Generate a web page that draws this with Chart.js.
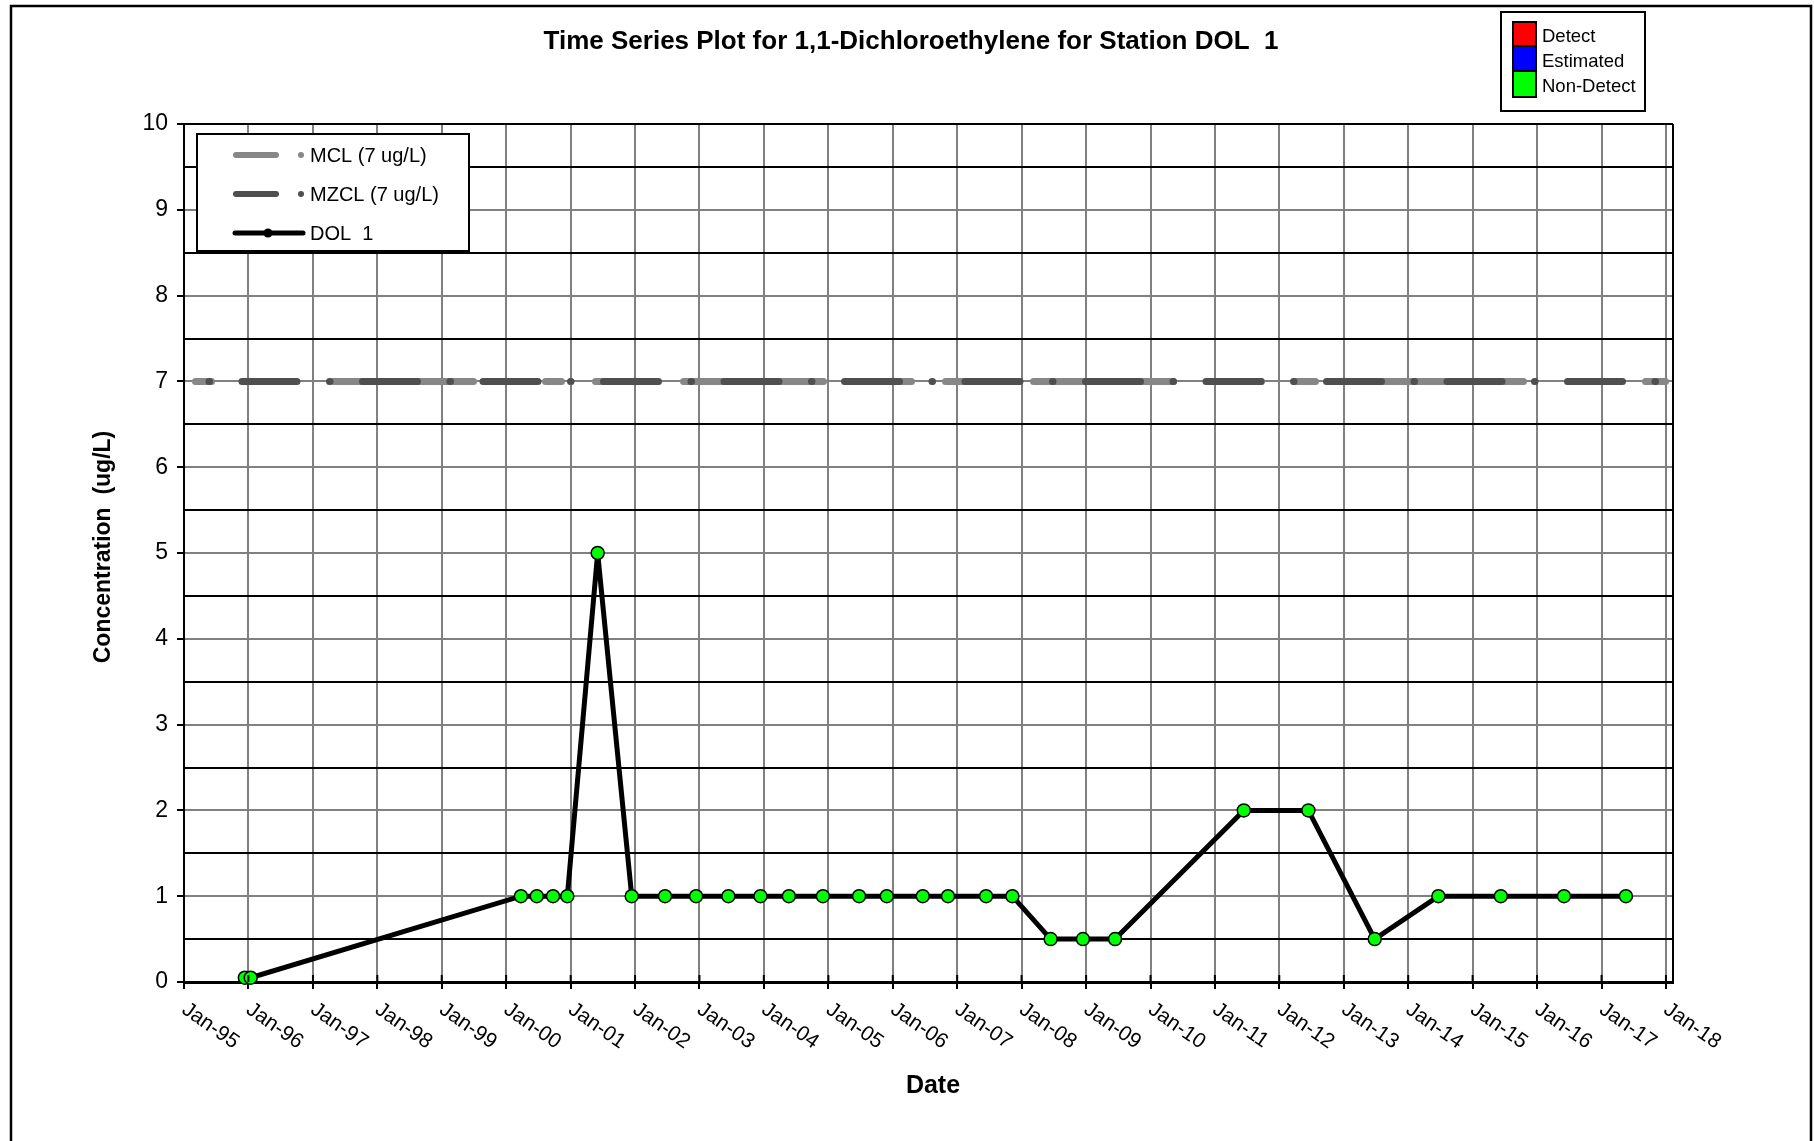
<!DOCTYPE html>
<html>
<head>
<meta charset="utf-8">
<title>Time Series Plot for 1,1-Dichloroethylene for Station DOL 1</title>
<script src="https://cdn.jsdelivr.net/npm/chart.js@4.4.1/dist/chart.umd.min.js"></script>
<style>
html, body { margin: 0; padding: 0; background: #fff; }
#wrap { width: 1814px; height: 1141px; }
</style>
</head>
<body>
<div id="wrap"><canvas id="tsChart" width="1814" height="1141"></canvas></div>
<script>
// sample dates and results for DOL 1 (all non-detect)
const sampleDates = [
    '1995-12-12', '1996-01-14',
    '2000-03-25', '2000-06-23', '2000-09-23', '2000-12-13',
    '2001-06-03', '2001-12-13',
    '2002-06-20', '2002-12-13', '2003-06-14', '2003-12-13',
    '2004-05-22', '2004-12-01', '2005-06-24', '2005-11-28',
    '2006-06-20', '2006-11-10', '2007-06-14', '2007-11-10',
    '2008-06-14', '2008-12-14', '2009-06-14',
    '2011-06-14', '2012-06-14', '2013-06-25',
    '2014-06-21', '2015-06-10', '2016-06-02', '2017-05-19'
];
const dolValues = [
    0.05, 0.05,
    1, 1, 1, 1,
    5, 1,
    1, 1, 1, 1,
    1, 1, 1, 1,
    1, 1, 1, 1,
    0.5, 0.5, 0.5,
    2, 2, 0.5,
    1, 1, 1, 1
];

// regulatory limits, drawn across the whole axis
const limitDates = ['1995-01-01', '2018-02-10'];
const mclValues = [7, 7];
const mzclValues = [7, 7];

const xTickYears = [1995, 1996, 1997, 1998, 1999, 2000, 2001, 2002, 2003, 2004, 2005, 2006,
    2007, 2008, 2009, 2010, 2011, 2012, 2013, 2014, 2015, 2016, 2017, 2018];
const xTickLabels = ['Jan-95', 'Jan-96', 'Jan-97', 'Jan-98', 'Jan-99', 'Jan-00', 'Jan-01', 'Jan-02',
    'Jan-03', 'Jan-04', 'Jan-05', 'Jan-06', 'Jan-07', 'Jan-08', 'Jan-09', 'Jan-10', 'Jan-11',
    'Jan-12', 'Jan-13', 'Jan-14', 'Jan-15', 'Jan-16', 'Jan-17', 'Jan-18'];
const yTickValues = [0, 1, 2, 3, 4, 5, 6, 7, 8, 9, 10];

const statusNames = ['Detect', 'Estimated', 'Non-Detect'];
const statusColors = ['#ff0000', '#0000ff', '#00ff00'];

const FONT = "'Liberation Sans', Arial, sans-serif";
const GRID_GRAY = '#808080';
const MCL_COLOR = '#878787';
const MZCL_COLOR = '#4f4f4f';

const toMs = (d) => Date.parse(d + 'T00:00:00Z');
const toPoints = (dates, vals) => dates.map((d, i) => ({ x: toMs(d), y: vals[i] }));

Chart.defaults.font.family = FONT;
Chart.defaults.color = '#000';

const decor = {
    id: 'decor',
    afterDraw(chart) {
        const ctx = chart.ctx;
        const area = chart.chartArea;
        const xs = chart.scales.x;
        ctx.save();

        // plot frame right side
        ctx.strokeStyle = '#000';
        ctx.lineWidth = 2;
        ctx.beginPath();
        ctx.moveTo(area.right, area.top);
        ctx.lineTo(area.right, area.bottom);
        ctx.stroke();

        // x ticks cross the axis, and rotated labels
        ctx.fillStyle = '#000';
        ctx.font = '21px ' + FONT;
        ctx.textAlign = 'left';
        ctx.textBaseline = 'top';
        xTickYears.forEach((yr, i) => {
            const px = xs.getPixelForValue(Date.UTC(yr, 0, 1));
            ctx.beginPath();
            ctx.moveTo(px, area.bottom);
            ctx.lineTo(px, area.bottom - 7);
            ctx.stroke();
            ctx.save();
            ctx.translate(px + 6, area.bottom + 17);
            ctx.rotate(35 * Math.PI / 180);
            ctx.fillText(xTickLabels[i], 0, 0);
            ctx.restore();
        });

        // titles
        ctx.textAlign = 'center';
        ctx.textBaseline = 'middle';
        ctx.font = 'bold 26px ' + FONT;
        ctx.fillText('Time Series Plot for 1,1-Dichloroethylene for Station DOL  1', 911, 42);
        ctx.font = 'bold 25px ' + FONT;
        ctx.fillText('Date', 933, 1086);
        ctx.save();
        ctx.translate(104, 547);
        ctx.rotate(-Math.PI / 2);
        ctx.font = 'bold 23px ' + FONT;
        ctx.fillText('Concentration  (ug/L)', 0, 0);
        ctx.restore();

        // outer frame
        ctx.lineWidth = 2.5;
        ctx.beginPath();
        ctx.moveTo(11, 1141);
        ctx.lineTo(11, 6);
        ctx.lineTo(1811, 6);
        ctx.lineTo(1811, 1141);
        ctx.stroke();

        // status legend (top right)
        ctx.lineWidth = 2;
        ctx.fillStyle = '#fff';
        ctx.fillRect(1501, 12, 144, 99);
        ctx.strokeRect(1501, 12, 144, 99);
        ctx.font = '18.5px ' + FONT;
        ctx.textAlign = 'left';
        const rowTop = [22, 46, 71];
        const rowH = [24, 25, 26];
        statusNames.forEach((name, i) => {
            ctx.fillStyle = statusColors[i];
            ctx.fillRect(1513, rowTop[i], 23, rowH[i]);
            ctx.strokeRect(1513, rowTop[i], 23, rowH[i]);
            ctx.fillStyle = '#000';
            ctx.fillText(name, 1542, rowTop[i] + rowH[i] / 2 + 3);
        });

        // series legend (inside plot)
        ctx.fillStyle = '#fff';
        ctx.fillRect(197, 134, 272, 117);
        ctx.strokeRect(197, 134, 272, 117);
        ctx.lineCap = 'round';
        const rows = [
            { y: 155, color: MCL_COLOR, text: 'MCL (7 ug/L)' },
            { y: 194, color: MZCL_COLOR, text: 'MZCL (7 ug/L)' }
        ];
        ctx.font = '20px ' + FONT;
        rows.forEach(r => {
            ctx.strokeStyle = r.color;
            ctx.lineWidth = 6;
            ctx.beginPath();
            ctx.moveTo(236, r.y);
            ctx.lineTo(276, r.y);
            ctx.stroke();
            ctx.fillStyle = r.color;
            ctx.beginPath();
            ctx.arc(301, r.y, 3, 0, Math.PI * 2);
            ctx.fill();
            ctx.fillStyle = '#000';
            ctx.fillText(r.text, 310, r.y + 1);
        });
        ctx.strokeStyle = '#000';
        ctx.lineWidth = 5;
        ctx.beginPath();
        ctx.moveTo(235, 233);
        ctx.lineTo(303, 233);
        ctx.stroke();
        ctx.beginPath();
        ctx.arc(268, 233, 4.5, 0, Math.PI * 2);
        ctx.fillStyle = '#000';
        ctx.fill();
        ctx.fillText('DOL  1', 310, 234);

        ctx.restore();
    }
};

new Chart(document.getElementById('tsChart').getContext('2d'), {
    type: 'line',
    data: {
        datasets: [
            {
                label: 'DOL  1',
                data: toPoints(sampleDates, dolValues),
                borderColor: '#000',
                borderWidth: 5,
                pointRadius: 6.5,
                pointBackgroundColor: statusColors[2],
                pointBorderColor: '#000',
                pointBorderWidth: 1.5,
                tension: 0,
                clip: false,
                order: 0
            },
            {
                label: 'MZCL (7 ug/L)',
                data: toPoints(limitDates, mzclValues),
                borderColor: MZCL_COLOR,
                borderWidth: 7,
                borderCapStyle: 'round',
                borderDash: [55, 32.5, 0.5, 32.5],
                borderDashOffset: 62.5,
                pointRadius: 0,
                order: 1
            },
            {
                label: 'MCL (7 ug/L)',
                data: toPoints(limitDates, mclValues),
                borderColor: MCL_COLOR,
                borderWidth: 7,
                borderCapStyle: 'round',
                borderDash: [140, 72, 16, 34, 20, 68],
                borderDashOffset: 200.5,
                pointRadius: 0,
                order: 2
            }
        ]
    },
    options: {
        responsive: false,
        devicePixelRatio: 1,
        animation: false,
        layout: { padding: { top: 124, right: 141, left: 0, bottom: 0 } },
        plugins: {
            legend: { display: false },
            title: { display: false },
            tooltip: { enabled: false }
        },
        scales: {
            x: {
                type: 'linear',
                min: toMs(limitDates[0]),
                max: toMs(limitDates[1]),
                afterFit: (s) => { s.height = 159; },
                afterBuildTicks: (s) => { s.ticks = xTickYears.map(yr => ({ value: Date.UTC(yr, 0, 1) })); },
                ticks: { display: false },
                grid: { color: GRID_GRAY, lineWidth: 2, tickLength: 7, tickColor: '#000' },
                border: { color: '#000', width: 3 }
            },
            y: {
                min: 0,
                max: 10,
                afterFit: (s) => { s.width = 184; },
                ticks: {
                    stepSize: 0.5,
                    padding: 9,
                    color: '#000',
                    font: { size: 23 },
                    callback: (v) => yTickValues.includes(v) ? String(v) : ''
                },
                grid: {
                    lineWidth: 2,
                    tickLength: 7,
                    color: (c) => (c.tick && c.tick.value % 1 === 0 && c.tick.value !== 10) ? GRID_GRAY : '#000',
                    tickColor: (c) => (c.tick && c.tick.value % 1 === 0) ? '#000' : 'rgba(0,0,0,0)'
                },
                border: { color: '#000', width: 2 }
            }
        }
    },
    plugins: [decor]
});
</script>
</body>
</html>
